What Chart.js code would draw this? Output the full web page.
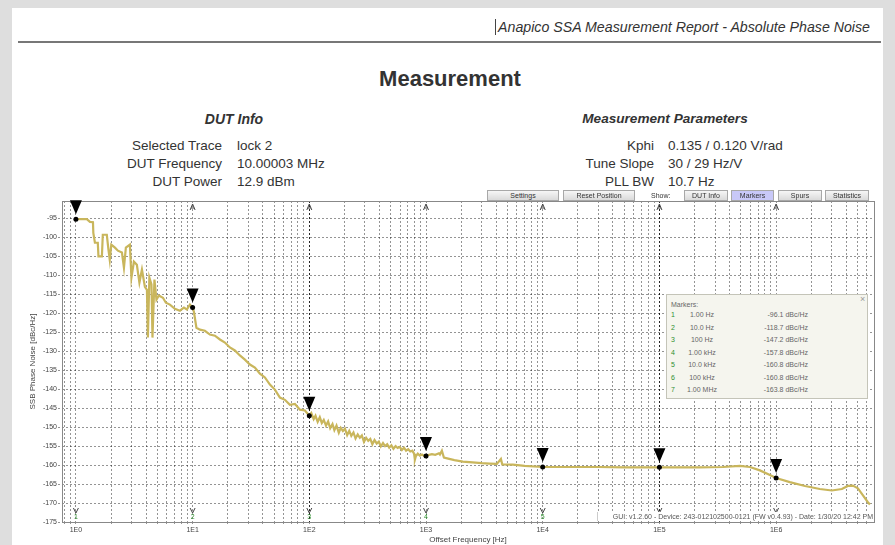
<!DOCTYPE html>
<html><head><meta charset="utf-8">
<script src="https://cdn.jsdelivr.net/npm/chart.js@4.4.1/dist/chart.umd.min.js"></script>
<style>
html,body{margin:0;padding:0;width:895px;height:545px;overflow:hidden;background:#dedede;font-family:"Liberation Sans",Arial,sans-serif;}
#page{position:absolute;left:12px;top:8px;width:871px;height:537px;background:#fff;}
.abs{position:absolute;white-space:nowrap;}
#hdr{right:25px;top:19px;font-size:14.2px;font-style:italic;color:#333;line-height:16px;border-left:1px solid #444;padding-left:2px;}
#hline{left:18px;top:41px;width:863px;height:2px;background:#777;}
#title{left:0;width:900px;text-align:center;top:66px;font-size:22px;font-weight:bold;color:#333;line-height:26px;}
.h2{font-size:14px;font-weight:bold;font-style:italic;color:#333;line-height:16px;text-align:center;width:300px;}
.lab{font-size:13.5px;color:#333;line-height:16px;text-align:right;}
.val{font-size:13.5px;color:#333;line-height:16px;}
.btn{position:absolute;top:190px;height:9px;border:1px solid #a8a8a8;background:linear-gradient(#f6f6f6,#dadada);font-size:7px;line-height:9px;text-align:center;color:#333;z-index:3;}
#canvasWrap{position:absolute;left:0;top:0;width:895px;height:545px;z-index:2;}
#mbox{position:absolute;left:666px;top:294px;width:200px;height:103px;background:#f5f5ee;border:1px solid #c4c4b8;z-index:3;font-size:7px;color:#666;}
#mbox .abs{line-height:9px;}
#gui{position:absolute;left:597px;top:512px;width:275px;height:9px;background:#fff;border-left:1px solid #ccc;font-size:7px;line-height:9px;color:#555;z-index:3;text-align:right;white-space:nowrap;}
</style></head>
<body>
<div id="page"></div>
<div class="abs" id="hdr">Anapico SSA Measurement Report - Absolute Phase Noise</div>
<div class="abs" id="hline"></div>
<div class="abs" id="title">Measurement</div>
<div class="abs h2" style="left:84px;top:111px;">DUT Info</div>
<div class="abs h2" style="left:515px;top:111px;font-size:13.6px;">Measurement Parameters</div>
<div id="info"></div>
<div class="btn" style="left:487px;width:70px;">Settings</div>
<div class="btn" style="left:563px;width:70px;">Reset Position</div>
<div class="abs" style="left:651px;top:191px;font-size:7px;line-height:9px;color:#333;z-index:3;">Show:</div>
<div class="btn" style="left:684px;width:42px;">DUT Info</div>
<div class="btn" style="left:731px;width:41px;background:#c8c8f8;">Markers</div>
<div class="btn" style="left:778px;width:42px;">Spurs</div>
<div class="btn" style="left:825px;width:42px;">Statistics</div>
<div id="canvasWrap"><canvas id="c" width="895" height="545"></canvas></div>
<div id="mbox"></div>
<div id="gui">GUI: v1.2.60 - Device: 243-012102500-0121 (FW v0.4.93) - Date: 1/30/20 12:42 PM</div>
<script>
// ---- data ----
const dutLabels = ['Selected Trace','DUT Frequency','DUT Power'];
const dutValues = ['lock 2','10.00003 MHz','12.9 dBm'];
const paramLabels = ['Kphi','Tune Slope','PLL BW'];
const paramValues = ['0.135 / 0.120 V/rad','30 / 29 Hz/V','10.7 Hz'];

const freqHz = [1.00,1.24,1.32,1.40,1.41,1.455,1.54,1.56,1.67,1.70,1.84,1.90,1.95,2.01,2.16,2.29,2.48,2.58,2.68,2.90,2.99,3.14,3.33,3.50,3.68,3.90,4.06,4.14,4.26,4.44,4.53,4.71,4.90,5.14,5.57,5.90,6.39,7.05,7.78,8.42,8.93,9.48,10.0,10.26,10.78,
 11.55,12.74,14.06,15.53,17.14,18.92,20.88,23.03,25.42,28.06,30.97,34.18,37.73,41.64,45.96,50.7,56.0,61.8,68.2,75.3,83.1,91.7,
 100,104,109,113,118,123,128,133,139,145,151,158,164,171,179,186,194,202,211,220,229,239,249,260,271,282,294,307,320,333,347,362,378,394,410,428,446,465,484,505,526,549,572,596,621,648,675,704,733,764,790,803,820,850,886,923,962,1000,
 1060,1124,1200,1290,1316,1368,1423,1550,1750,2070,2500,3000,3500,4050,4385,4500,5560,7000,
 10000,14000,20800,30000,50000,100000,150000,222000,350000,490000,596000,726000,885000,1000000,1310000,1770000,2370000,3000000,3660000,4120000,4550000,5020000,5550000,6120000,6370000];
const noiseDb = [-95.2,-95.2,-95.9,-96.0,-98.8,-101.4,-101.4,-105.0,-105.0,-99.3,-99.3,-103.2,-105.9,-101.9,-102.7,-103.5,-104.0,-108.0,-102.7,-101.9,-110.6,-106.4,-107.2,-111.9,-108.5,-113.0,-113.8,-126.4,-110.6,-112.4,-126.4,-111.1,-116.4,-115.3,-115.9,-117.2,-117.7,-118.8,-119.3,-118.5,-119.0,-117.7,-118.5,-119.6,-123.8,
 -124.3,-124.6,-125.6,-125.9,-126.9,-127.7,-129.0,-129.8,-131.1,-132.2,-133.5,-134.3,-135.9,-136.9,-138.8,-140.1,-142.2,-142.8,-144.1,-143.9,-145.4,-145.6,
 -147.0,-146.3,-147.9,-147.0,-148.6,-147.4,-148.9,-148.1,-149.6,-148.5,-150.3,-149.2,-150.8,-149.6,-151.5,-150.2,-151.0,-150.4,-152.1,-151.0,-152.3,-151.4,-153.0,-151.9,-152.8,-152.2,-153.9,-152.8,-153.6,-153.1,-154.5,-153.4,-154.3,-153.8,-155.1,-154.2,-155.0,-154.5,-155.4,-154.8,-155.7,-155.0,-155.5,-155.2,-156.0,-155.4,-156.2,-155.8,-156.4,-156.2,-157.0,-158.6,-157.6,-157.0,-157.5,-157.2,-157.6,-157.6,
 -157.3,-157.1,-157.3,-156.9,-157.2,-156.2,-158.0,-158.3,-158.7,-159.1,-159.3,-159.5,-159.6,-159.7,-158.4,-159.8,-159.9,-160.2,
 -160.5,-160.5,-160.5,-160.5,-160.6,-160.6,-160.6,-160.6,-160.5,-160.2,-160.5,-161.4,-162.6,-163.4,-164.5,-165.5,-166.3,-166.7,-166.3,-165.5,-165.4,-166.1,-168.0,-169.8,-170.4];

// marker table (as reported) and dot positions
const markerFreqHz = [1,10,100,1000,10000,100000,1000000];
const markerFreqText = ['1.00 Hz','10.0 Hz','100 Hz','1.00 kHz','10.0 kHz','100 kHz','1.00 MHz'];
const markerDbText = ['-96.1 dBc/Hz','-118.7 dBc/Hz','-147.2 dBc/Hz','-157.8 dBc/Hz','-160.8 dBc/Hz','-160.8 dBc/Hz','-163.8 dBc/Hz'];
const markerDotDb = [-95.2,-118.5,-147.0,-157.6,-160.5,-160.6,-163.4];
const darkLineFreqHz = [100,100000];

const yTicks = [-175,-170,-165,-160,-155,-150,-145,-140,-135,-130,-125,-120,-115,-110,-105,-100,-95];
const xDecades = [1,10,100,1000,10000,100000,1000000];
const xTickLabels = ['1E0','1E1','1E2','1E3','1E4','1E5','1E6'];
const xMinorMultipliers = [1,2,3,4,5,6,7,8,9];

// ---- info text ----
const info = document.getElementById('info');
function addRows(labels, values, labRight, valLeft){
  labels.forEach((l,i)=>{
    const top = 138 + i*18;
    const a = document.createElement('div'); a.className='abs lab';
    a.style.right = (895-labRight)+'px'; a.style.top = top+'px'; a.textContent = l; info.appendChild(a);
    const b = document.createElement('div'); b.className='abs val';
    b.style.left = valLeft+'px'; b.style.top = top+'px'; b.textContent = values[i]; info.appendChild(b);
  });
}
addRows(dutLabels, dutValues, 222, 237);
addRows(paramLabels, paramValues, 654, 668);

// ---- marker box ----
const mbox = document.getElementById('mbox');
function mdiv(txt, css){ const d=document.createElement('div'); d.className='abs'; d.textContent=txt; Object.assign(d.style, css); mbox.appendChild(d); }
mdiv('Markers:', {left:'4px', top:'5px'});
mdiv('\u00d7', {left:'193px', top:'0px', fontSize:'9px', color:'#999'});
markerFreqText.forEach((t,i)=>{
  const top = (15 + i*12.5)+'px';
  mdiv(String(i+1), {left:'4px', top, color:'#2f8f2f'});
  mdiv(t, {left:'15px', width:'40px', textAlign:'center', top});
  mdiv(markerDbText[i], {right:'59px', top, textAlign:'right'});
});

// ---- chart ----
Chart.defaults.font.family = '"Liberation Sans", Arial, sans-serif';
const minorTicks = [];
xDecades.concat([0.1]).forEach(d=>xMinorMultipliers.forEach(m=>{ const v=m*d; if(v>=0.76 && v<=6.9e6) minorTicks.push(v); }));
minorTicks.sort((a,b)=>a-b);

const decor = {
  id:'decor',
  beforeDatasetsDraw(chart){
    const {ctx, chartArea:a, scales:{x}} = chart;
    ctx.save();
    ctx.strokeStyle='rgba(0,0,0,0.75)'; ctx.lineWidth=1; ctx.setLineDash([2,2]);
    darkLineFreqHz.forEach(f=>{ const px=Math.round(x.getPixelForValue(f))+0.5; ctx.beginPath(); ctx.moveTo(px,a.top); ctx.lineTo(px,a.bottom); ctx.stroke(); });
    ctx.setLineDash([]);
    ctx.strokeStyle='#888'; ctx.lineWidth=1;
    ctx.strokeRect(Math.round(a.left)+0.5, Math.round(a.top)+0.5, Math.round(a.right-a.left), Math.round(a.bottom-a.top));
    ctx.restore();
  },
  afterDatasetsDraw(chart){
    const {ctx, chartArea:a, scales:{x,y}} = chart;
    ctx.save();
    markerFreqHz.forEach((f,i)=>{
      const px = x.getPixelForValue(f), py = y.getPixelForValue(markerDotDb[i]);
      ctx.fillStyle='#000';
      ctx.beginPath(); ctx.moveTo(px-6, py-19); ctx.lineTo(px+6, py-19); ctx.lineTo(px, py-5); ctx.closePath(); ctx.fill();
      if(i>0){
        ctx.strokeStyle='#444'; ctx.lineWidth=1;
        ctx.beginPath(); ctx.moveTo(px-2.5,a.top+9); ctx.lineTo(px,a.top+3); ctx.lineTo(px+2.5,a.top+9); ctx.stroke();
        ctx.beginPath(); ctx.moveTo(px-1.5,a.top+7); ctx.lineTo(px+1.5,a.top+7); ctx.stroke();
      }
      ctx.strokeStyle='#444'; ctx.lineWidth=1;
      ctx.beginPath(); ctx.moveTo(px-2.5,a.bottom-14); ctx.lineTo(px,a.bottom-9); ctx.lineTo(px+2.5,a.bottom-14); ctx.stroke();
      ctx.fillStyle='#2f8f2f'; ctx.font='7px "Liberation Sans", Arial'; ctx.textAlign='center'; ctx.textBaseline='middle';
      ctx.fillText(String(i+1), px, a.bottom-4.5);
    });
    ctx.restore();
  }
};

new Chart(document.getElementById('c'), {
  type:'line',
  data:{datasets:[
    {data: freqHz.map((f,i)=>({x:f,y:noiseDb[i]})), borderColor:'#c9b65c', borderWidth:2.2, pointRadius:0, tension:0, fill:false, order:2},
    {type:'scatter', data: markerFreqHz.map((f,i)=>({x:f,y:markerDotDb[i]})), pointRadius:2.5, pointBackgroundColor:'#000', pointBorderColor:'#000', pointBorderWidth:0, showLine:false, order:1}
  ]},
  options:{
    responsive:false, animation:false, devicePixelRatio:1,
    layout:{padding:{top:201,right:21,left:28,bottom:0}},
    plugins:{legend:{display:false}, tooltip:{enabled:false}},
    scales:{
      x:{type:'logarithmic', min:0.76, max:6.9e6,
        afterBuildTicks(s){ s.ticks = minorTicks.map(v=>({value:v})); },
        ticks:{autoSkip:false, maxRotation:0, minRotation:0, padding:1, font:{size:7}, color:'#444',
          callback(v){ const i = xDecades.indexOf(v); return i>=0 ? xTickLabels[i] : ''; }},
        grid:{color:'rgba(0,0,0,0.42)', lineWidth:1, drawTicks:true, tickLength:3, tickBorderDash:[2,2]},
        border:{display:false, dash:[2,2]},
        title:{display:true, text:'Offset Frequency [Hz]', font:{size:8}, color:'#444', padding:0},
        afterFit(s){ s.height = 23; }
      },
      y:{type:'linear', min:-175, max:-90.4,
        afterBuildTicks(s){ s.ticks = yTicks.map(v=>({value:v})); },
        ticks:{padding:1, font:{size:7}, color:'#444'},
        grid:{color:'rgba(0,0,0,0.42)', lineWidth:1, drawTicks:true, tickLength:4, tickBorderDash:[2,2]},
        border:{display:false, dash:[2,2]},
        title:{display:true, text:'SSB Phase Noise [dBc/Hz]', font:{size:8}, color:'#444', padding:0},
        afterFit(s){ s.width = 34; }
      }
    }
  },
  plugins:[decor]
});
</script>
</body></html>
